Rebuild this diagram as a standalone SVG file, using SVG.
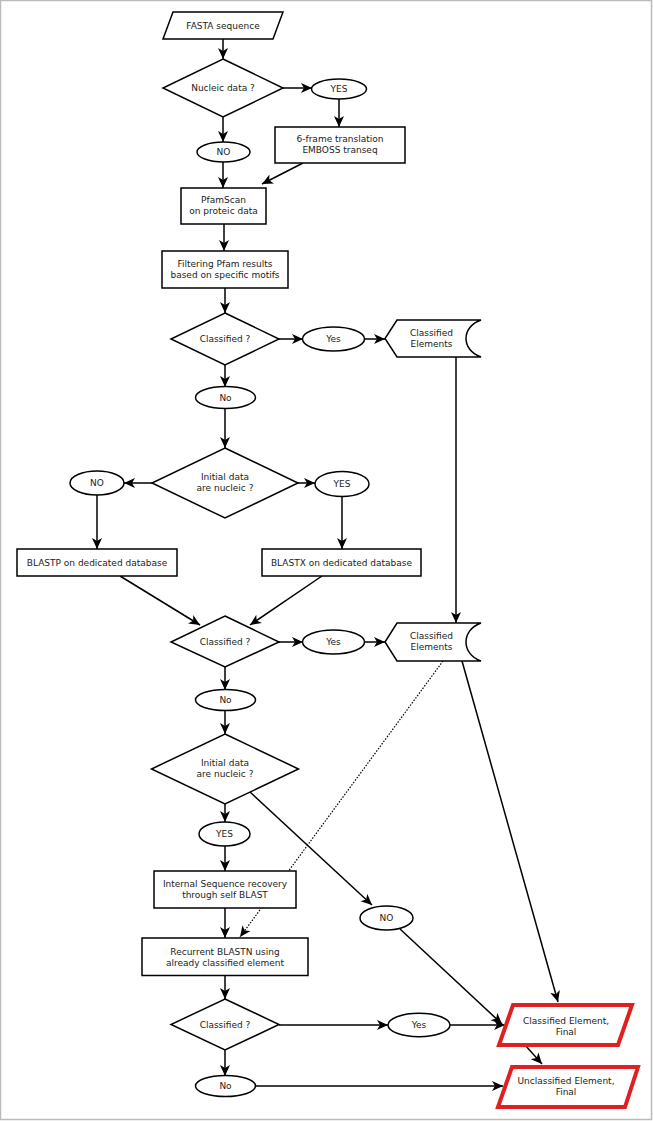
<svg xmlns="http://www.w3.org/2000/svg" width="653" height="1121" viewBox="0 0 653 1121">
<style>
.n{fill:#fff;stroke:#000;stroke-width:1.5}
.f{fill:#fff;stroke:#e02020;stroke-width:4;stroke-linejoin:miter}
.t{font-family:"DejaVu Sans",sans-serif;font-size:9px;fill:#222;text-anchor:middle}
.c{fill:none;stroke:#000;stroke-width:1.5;marker-end:url(#ah)}
.d{fill:none;stroke:#000;stroke-width:1.2;stroke-dasharray:1.5 1.5;marker-end:url(#ah)}
.p{fill:none;stroke:#000;stroke-width:1.5}
</style>
<defs>
<marker id="ah" markerUnits="userSpaceOnUse" markerWidth="12" markerHeight="12" viewBox="0 0 12 12" refX="11" refY="6" orient="auto">
<path d="M0,1 L11,6 L0,11 L3,6 Z" fill="#000"/>
</marker>
</defs>
<rect x="0.5" y="0.5" width="651" height="1119" fill="#fff" stroke="#bbb" stroke-width="1.5"/>
<g id="connectors">
<line class="c" x1="223" y1="39" x2="223" y2="59"/>
<line class="c" x1="283" y1="88" x2="312" y2="88"/>
<line class="c" x1="339" y1="99" x2="339" y2="127"/>
<line class="c" x1="223" y1="117" x2="223" y2="142"/>
<line class="c" x1="223" y1="162" x2="223" y2="188"/>
<line class="c" x1="303" y1="163" x2="262" y2="184"/>
<line class="c" x1="224" y1="224" x2="224" y2="251"/>
<line class="c" x1="225" y1="288" x2="225" y2="313"/>
<line class="c" x1="279" y1="339" x2="303" y2="339"/>
<line class="c" x1="364" y1="339" x2="385" y2="339"/>
<line class="c" x1="225" y1="365" x2="225" y2="387"/>
<line class="c" x1="456" y1="357" x2="456" y2="623"/>
<line class="c" x1="225" y1="408" x2="225" y2="448"/>
<line class="c" x1="152" y1="483" x2="124" y2="483"/>
<line class="c" x1="298" y1="483" x2="315" y2="483"/>
<line class="c" x1="97" y1="495" x2="97" y2="549"/>
<line class="c" x1="342" y1="497" x2="342" y2="549"/>
<line class="c" x1="120" y1="576" x2="200" y2="625"/>
<line class="c" x1="322" y1="576" x2="250" y2="625"/>
<line class="c" x1="279" y1="642" x2="303" y2="642"/>
<line class="c" x1="364" y1="642" x2="385" y2="642"/>
<line class="c" x1="225" y1="667" x2="225" y2="690"/>
<line class="c" x1="225" y1="710" x2="225" y2="734"/>
<line class="c" x1="225" y1="804" x2="225" y2="822"/>
<line class="c" x1="250" y1="792" x2="372" y2="905"/>
<line class="c" x1="225" y1="846" x2="225" y2="871"/>
<line class="c" x1="225" y1="908" x2="225" y2="938"/>
<line class="d" x1="443" y1="661" x2="240" y2="937"/>
<line class="c" x1="225" y1="976" x2="225" y2="999"/>
<line class="c" x1="279" y1="1025" x2="388" y2="1025"/>
<line class="c" x1="450" y1="1025" x2="505" y2="1025"/>
<line class="c" x1="400" y1="929" x2="502" y2="1024"/>
<line class="c" x1="462" y1="661" x2="558" y2="1002"/>
<line class="c" x1="225" y1="1050" x2="225" y2="1076"/>
<line class="c" x1="256" y1="1086" x2="503" y2="1086"/>
<line class="c" x1="525" y1="1045" x2="542" y2="1064"/>
</g>
<g id="fasta"><polygon class="n" points="173,12 283,12 273,39 163,39"/><text class="t" x="223" y="29">FASTA sequence</text></g>
<g id="nucleic"><polygon class="n" points="223,59 283,88 223,117 163,88"/><text class="t" x="223" y="91">Nucleic data ?</text></g>
<g id="yes1"><ellipse class="n" cx="339" cy="89" rx="27.5" ry="10"/><text class="t" x="339" y="92">YES</text></g>
<g id="transeq"><rect class="n" x="275" y="127" width="130" height="36"/><text class="t" x="340" y="142">6-frame translation</text><text class="t" x="340" y="153">EMBOSS transeq</text></g>
<g id="no1"><ellipse class="n" cx="223.5" cy="152" rx="26.5" ry="10"/><text class="t" x="223.5" y="155">NO</text></g>
<g id="pfamscan"><rect class="n" x="181" y="188" width="85" height="36"/><text class="t" x="223.5" y="203">PfamScan</text><text class="t" x="223.5" y="214">on proteic data</text></g>
<g id="filtering"><rect class="n" x="162" y="251" width="126" height="37"/><text class="t" x="225" y="267">Filtering Pfam results</text><text class="t" x="225" y="278">based on specific motifs</text></g>
<g id="classified1"><polygon class="n" points="225,313 279,339 225,365 171,339"/><text class="t" x="225" y="342">Classified ?</text></g>
<g id="yes2"><ellipse class="n" cx="333.5" cy="339" rx="31" ry="12"/><text class="t" x="333.5" y="342">Yes</text></g>
<g id="elements1"><path class="n" d="M397,320 L481,320 C461,327 461,350 481,357 L397,357 L385,338.5 Z"/><text class="t" x="431.5" y="335.5">Classified</text><text class="t" x="431.5" y="346.5">Elements</text></g>
<g id="no2"><ellipse class="n" cx="225.5" cy="397.5" rx="30" ry="11"/><text class="t" x="225.5" y="400.5">No</text></g>
<g id="initial1"><polygon class="n" points="225,448 298,483 225,518 152,483"/><text class="t" x="225" y="480">Initial data</text><text class="t" x="225" y="491">are nucleic ?</text></g>
<g id="no3"><ellipse class="n" cx="97" cy="483" rx="27" ry="12"/><text class="t" x="97" y="486">NO</text></g>
<g id="yes3"><ellipse class="n" cx="342" cy="484" rx="27" ry="12.5"/><text class="t" x="342" y="487">YES</text></g>
<g id="blastp"><rect class="n" x="17" y="549" width="160" height="27"/><text class="t" x="97" y="565.5">BLASTP on dedicated database</text></g>
<g id="blastx"><rect class="n" x="262" y="549" width="159" height="27"/><text class="t" x="341.5" y="565.5">BLASTX on dedicated database</text></g>
<g id="classified2"><polygon class="n" points="225,616 279,642 225,667 171,642"/><text class="t" x="225" y="645">Classified ?</text></g>
<g id="yes4"><ellipse class="n" cx="333.5" cy="642" rx="31" ry="12"/><text class="t" x="333.5" y="645">Yes</text></g>
<g id="elements2"><path class="n" d="M397,623 L481,623 C461,630 461,654 481,661 L397,661 L385,642 Z"/><text class="t" x="431.5" y="639">Classified</text><text class="t" x="431.5" y="650">Elements</text></g>
<g id="no4"><ellipse class="n" cx="225.5" cy="700" rx="30" ry="10.5"/><text class="t" x="225.5" y="703">No</text></g>
<g id="initial2"><polygon class="n" points="225,734 298.5,769 225,804 151.5,769"/><text class="t" x="225" y="766">Initial data</text><text class="t" x="225" y="777">are nucleic ?</text></g>
<g id="yes5"><ellipse class="n" cx="224.5" cy="834" rx="25.5" ry="12"/><text class="t" x="224.5" y="837">YES</text></g>
<g id="no5"><ellipse class="n" cx="386.5" cy="918" rx="26.5" ry="12"/><text class="t" x="386.5" y="921">NO</text></g>
<g id="internal"><rect class="n" x="154" y="871" width="142" height="37"/><text class="t" x="225" y="887">Internal Sequence recovery</text><text class="t" x="225" y="898">through self BLAST</text></g>
<g id="recurrent"><rect class="n" x="142" y="938" width="166" height="37.5"/><text class="t" x="225" y="954.5">Recurrent BLASTN using</text><text class="t" x="225" y="965.5">already classified element</text></g>
<g id="classified3"><polygon class="n" points="225,999 279,1024.5 225,1050 171,1024.5"/><text class="t" x="225" y="1027.5">Classified ?</text></g>
<g id="yes6"><ellipse class="n" cx="419" cy="1025" rx="31" ry="11.7"/><text class="t" x="419" y="1028">Yes</text></g>
<g id="no6"><ellipse class="n" cx="225.5" cy="1086" rx="30" ry="10.5"/><text class="t" x="225.5" y="1089">No</text></g>
<g id="classifiedFinal"><polygon class="f" points="513,1005 632,1005 618,1045 499,1045"/><text class="t" x="566" y="1023.5">Classified Element,</text><text class="t" x="566" y="1034.5">Final</text></g>
<g id="unclassifiedFinal"><polygon class="f" points="512,1067 638,1067 625,1107 498,1107"/><text class="t" x="566" y="1083.5">Unclassified Element,</text><text class="t" x="566" y="1094.5">Final</text></g>
</svg>
